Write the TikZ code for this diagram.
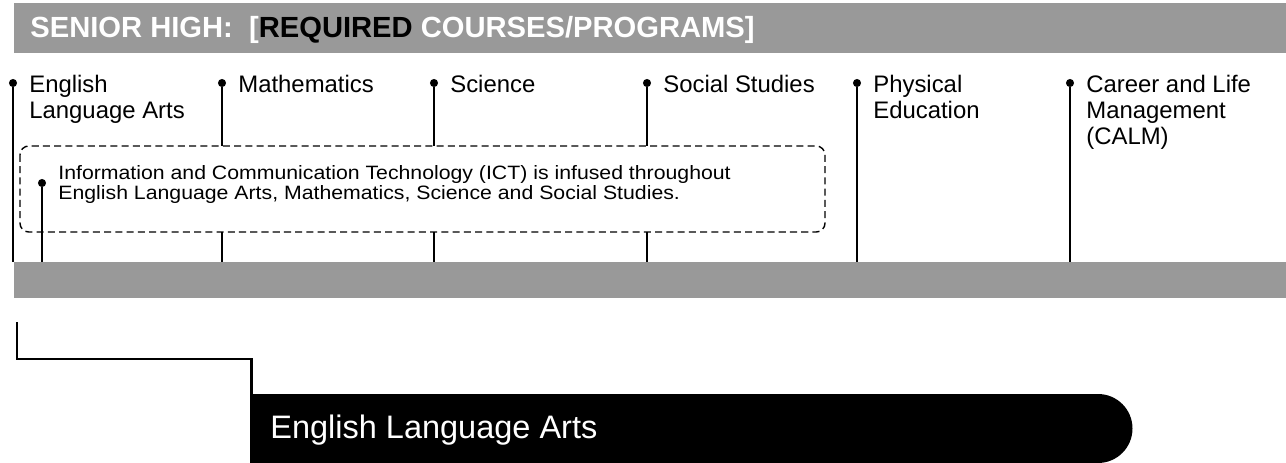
\documentclass[tikz,border=0pt]{standalone}
\usepackage{fontspec}
\setmainfont{Liberation Sans}
\usetikzlibrary{positioning}
\definecolor{bargray}{HTML}{999999}
\tikzset{
  dot/.style={circle, fill=black, inner sep=0pt, minimum size=4.6pt},
  subj/.style={anchor=north west, align=left, inner sep=0pt, font=\fontsize{13.6}{14.8}\selectfont},
  stem/.style={line width=0.85pt},
  icttxt/.style={anchor=north west, align=left, inner sep=0pt, xscale=1.1, font=\fontsize{11}{10.2}\selectfont},
  ictbox/.style={dash pattern=on 4pt off 2.4pt, line width=0.8pt, rounded corners=5pt},
  link/.style={line width=1.7pt}}

\begin{document}
\begin{tikzpicture}[x=0.02cm, y=-0.02cm]
\useasboundingbox (0,0) rectangle (1286,463);
% title bar
\fill[bargray] (14,3) rectangle (1286,53);
\node[anchor=base west, inner sep=0pt, text=white, font=\bfseries\fontsize{16.6}{19}\selectfont] (title) at (30,37)
  {SENIOR HIGH:~~[\textcolor{black}{REQUIRED} COURSES/PROGRAMS]};
% bottom gray bar
\fill[bargray] (14,262) rectangle (1286,298);
\coordinate (bartop) at (0,262);
% ICT box
\coordinate (boxnw) at (20,146);
\coordinate (boxse) at (825,232);
\draw[ictbox] (boxnw) rectangle (boxse);
\node[dot] (ictdot) at (42,183) {};
\node[icttxt] (ict) at (58,165) {Information and Communication Technology (ICT) is infused throughout\\English Language Arts, Mathematics, Science and Social Studies.};
\draw[stem] (ictdot) -- (ictdot |- bartop);
% subjects
\foreach \name/\x/\label in {ela/13/{English\\Language Arts}, math/222/Mathematics, sci/434/Science,
    soc/647/Social Studies, pe/857/{Physical\\Education}, calm/1070/{Career and Life\\Management\\(CALM)}}{
  \node[dot] (\name) at (\x,83) {};
  \node[subj] (\name-txt) at (\x+16,75) {\label};
}
\foreach \name in {ela, pe, calm}
  \draw[stem] (\name) -- (\name |- bartop);
\foreach \name in {math, sci, soc}{
  \draw[stem] (\name) -- (\name |- boxnw);
  \draw[stem] (\name |- boxse) -- (\name |- bartop);
}
% banner
\coordinate (bannernw) at (250,394);
\fill (bannernw) -- (1098,394) arc[start angle=90, end angle=-90, radius=0.69cm] -- (250,463) -- cycle;
\node[anchor=base west, inner sep=0pt, text=white, font=\fontsize{18.5}{22}\selectfont] (banner) at (270,438) {English Language Arts};
\coordinate (elastart) at (17,322);
\draw[link] (elastart) -- ++(0,37) -| ([xshift=1pt]bannernw);
\end{tikzpicture}
\end{document}
